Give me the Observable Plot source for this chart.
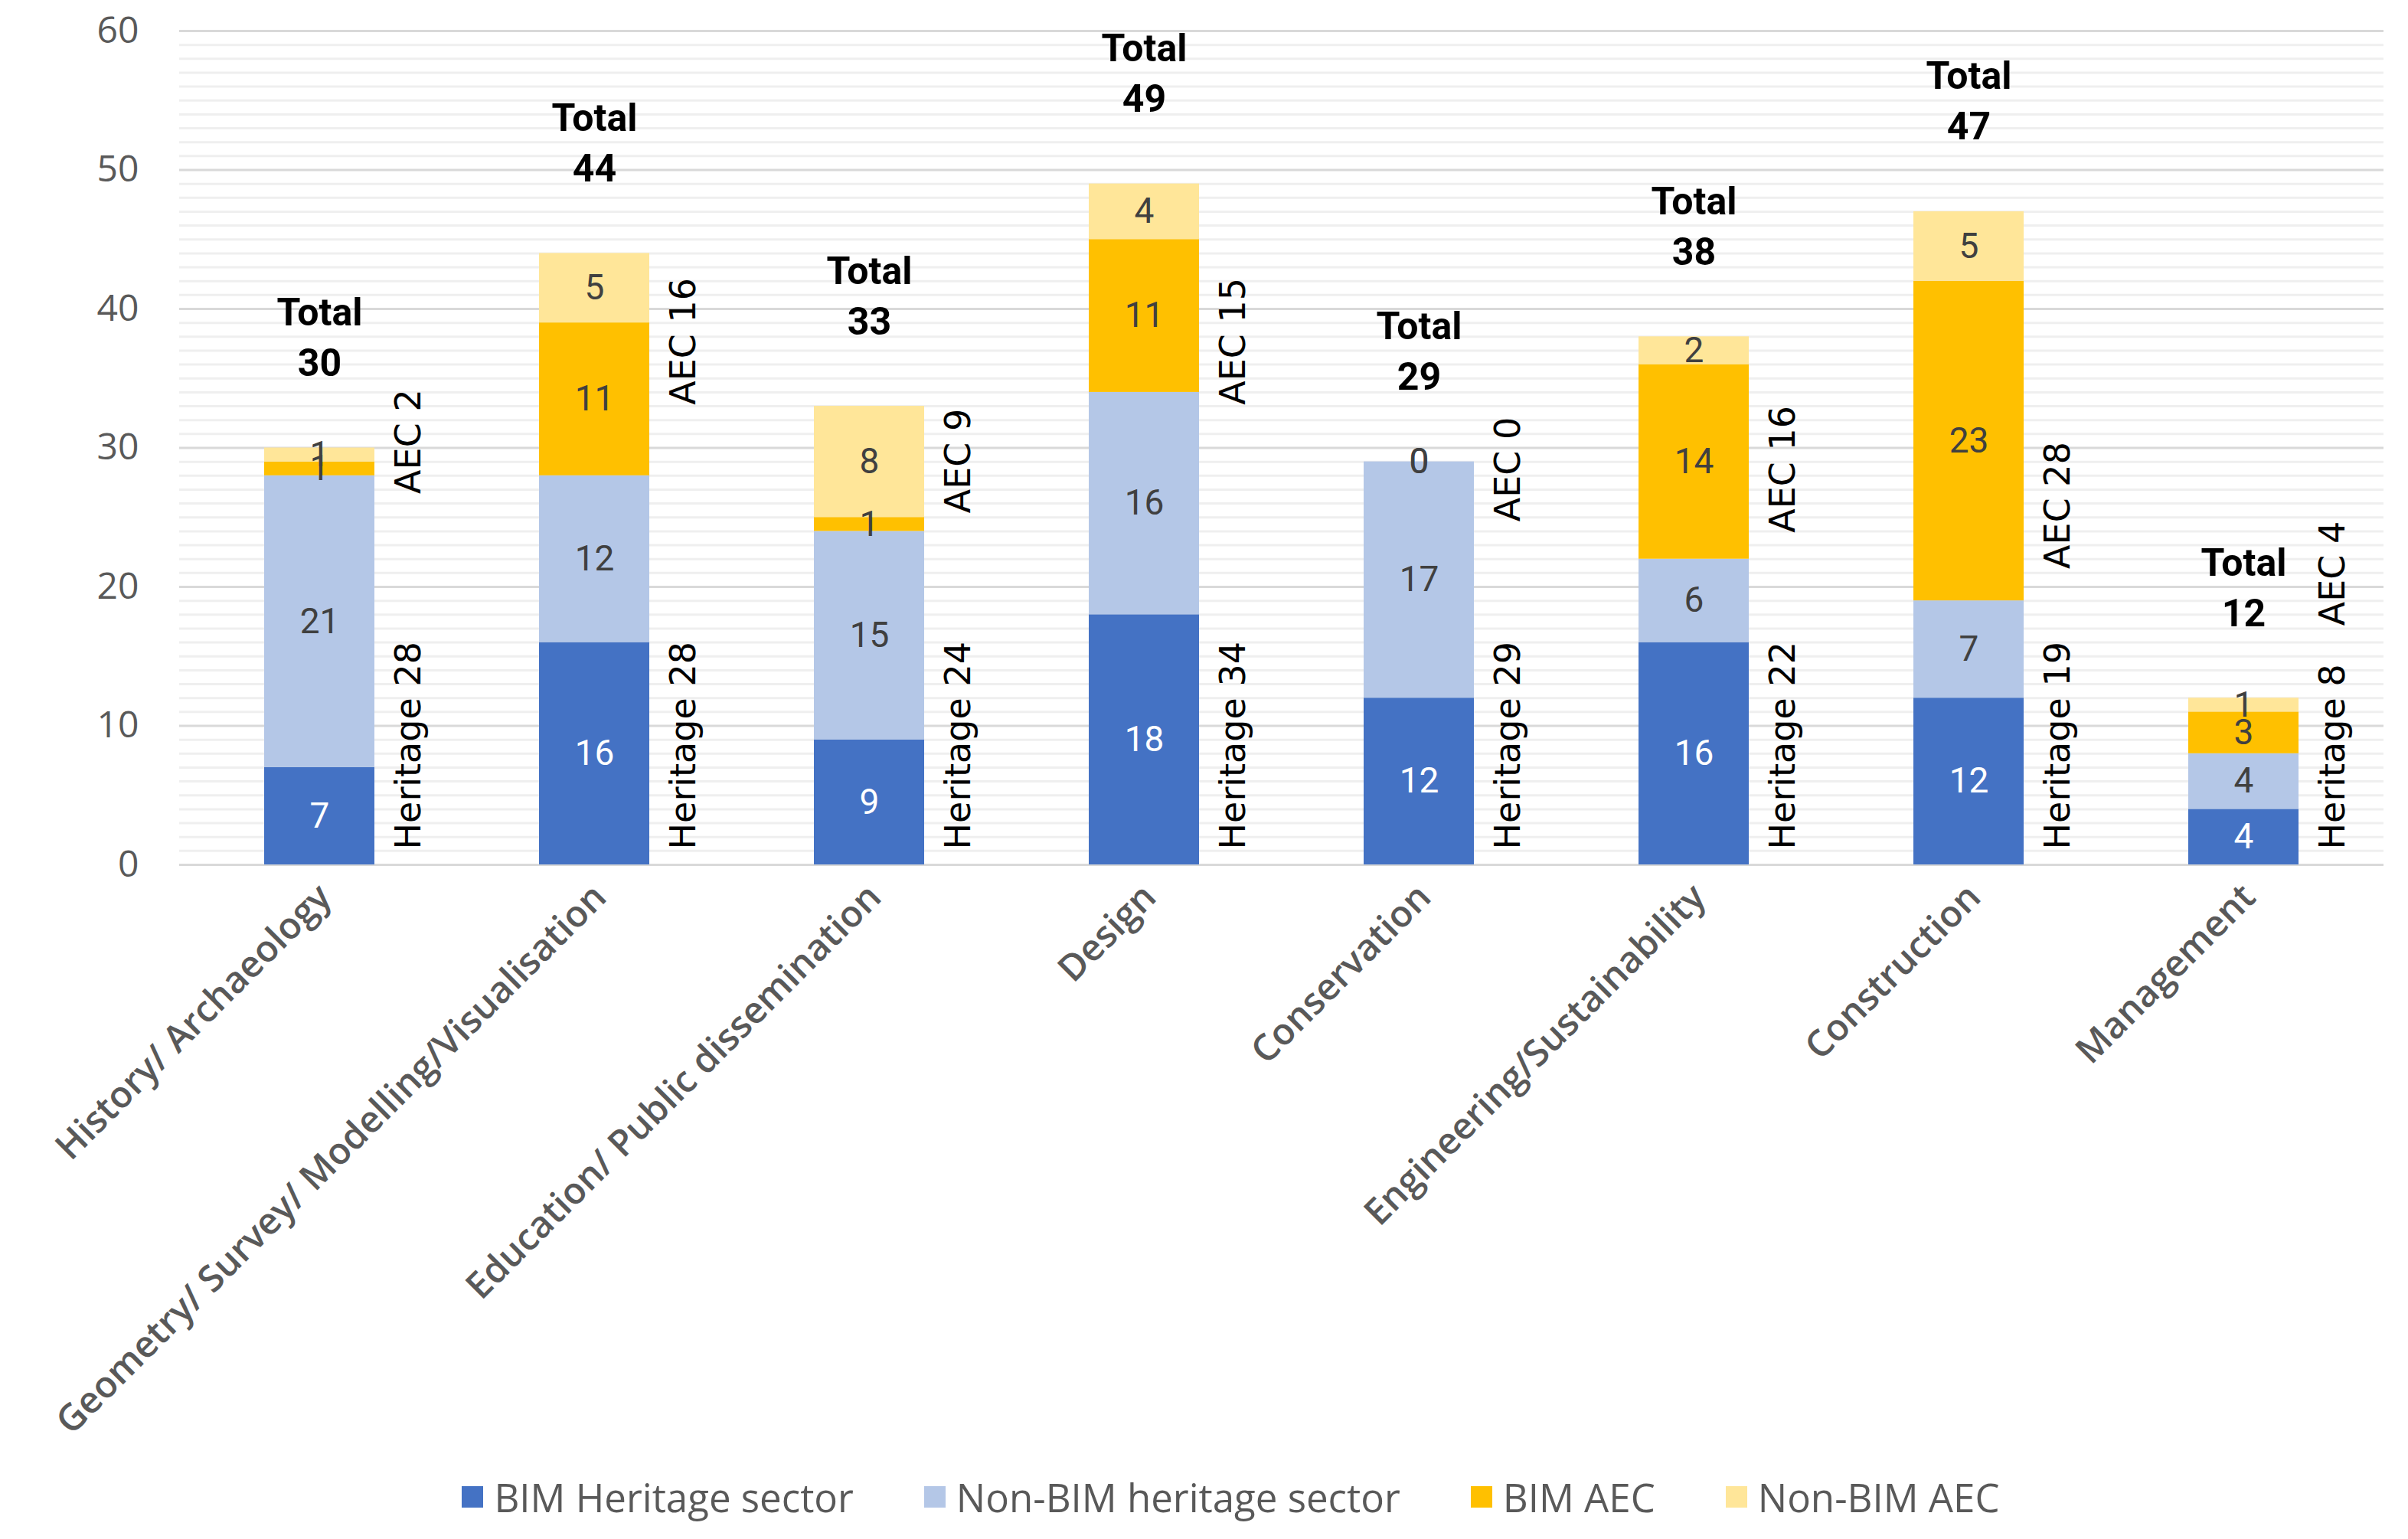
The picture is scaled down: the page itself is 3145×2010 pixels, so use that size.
<!DOCTYPE html>
<html><head><meta charset="utf-8">
<script src="https://cdn.jsdelivr.net/npm/d3@7"></script>
<script src="https://cdn.jsdelivr.net/npm/@observablehq/plot@0.6"></script>
<style>
body{margin:0;background:#fff;font-family:"Open Sans",sans-serif;}
#legend{display:flex;justify-content:center;align-items:center;gap:92px;height:110px;padding-left:70px;font-size:51px;color:#595959;box-sizing:border-box;}
.item{display:flex;align-items:center;gap:14px}
.sw{width:28px;height:28px}
</style></head><body><div id="chart"></div><div id="legend"></div>
<script>
const categories = ["History/ Archaeology","Geometry/ Survey/ Modelling/Visualisation","Education/ Public dissemination","Design","Conservation","Engineering/Sustainability","Construction","Management"];
const seriesNames = ["BIM Heritage sector","Non-BIM heritage sector","BIM AEC","Non-BIM AEC"];
const seriesColors = ["#4472C4","#B4C7E7","#FFC000","#FFE699"];
const bimHeritage = [7,16,9,18,12,16,12,4];
const nonBimHeritage = [21,12,15,16,17,6,7,4];
const bimAEC = [1,11,1,11,0,14,23,3];
const nonBimAEC = [1,5,8,4,0,2,5,1];
const totals = [30,44,33,49,29,38,47,12];
const heritageTotals = [28,28,24,34,29,22,19,8];
const aecTotals = [2,16,9,15,0,16,28,4];
const aecLabelBase = [26.7,33.1,25.3,33.1,24.7,23.9,21.3,17.2];
const yTicks = [0,10,20,30,40,50,60];
const minorTicks = d3.range(0,61,1);

const seriesValues = [bimHeritage, nonBimHeritage, bimAEC, nonBimAEC];
const rows = [];
categories.forEach((c,i)=>{
  let acc = 0;
  seriesValues.forEach((vals,s)=>{
    rows.push({cat:c, series:seriesNames[s], value:vals[i], y1:acc, y2:acc+vals[i]});
    acc += vals[i];
  });
});
const catRows = categories.map((c,i)=>({cat:c,total:totals[i],her:heritageTotals[i],aec:aecTotals[i],aecBase:aecLabelBase[i]}));

const W = 3145, H = 1900;
const plot = Plot.plot({
  width: W, height: H,
  marginTop: 40, marginBottom: H-1129, marginLeft: 234, marginRight: 32,
  style:{fontFamily:"Open Sans", background:"white"},
  x:{domain:categories, paddingInner:0.6, paddingOuter:0.3, axis:null},
  y:{domain:[0,60], axis:null},
  color:{domain:seriesNames, range:seriesColors},
  marks:[
    Plot.ruleY(minorTicks.filter(t=>t%10!==0), {stroke:"#efefef", strokeWidth:3}),
    Plot.ruleY(yTicks, {stroke:"#d9d9d9", strokeWidth:3}),
    Plot.axisY({ticks:yTicks, tickSize:0, tickPadding:53, fontSize:48, fill:"#595959", label:null}),
    Plot.barY(rows, {x:"cat", y1:"y1", y2:"y2", fill:"series"}),
    Plot.text(rows.filter(d=>d.series===seriesNames[0]), {x:"cat", y:d=>(d.y1+d.y2)/2, text:d=>String(d.value), fill:"white", fontSize:46, fontFamily:"Roboto"}),
    Plot.text(rows.filter(d=>d.series!==seriesNames[0]), {x:"cat", y:d=>(d.y1+d.y2)/2, text:d=>String(d.value), fill:"#404040", fontSize:46, fontFamily:"Roboto"}),
    Plot.text(catRows, {x:"cat", y:"total", text:d=>String(d.total), dy:-110, fontSize:50, fontWeight:"bold", fontFamily:"Roboto", fill:"black"}),
    Plot.text(catRows, {x:"cat", y:"total", text:()=>"Total", dy:-176, fontSize:50, fontWeight:"bold", fontFamily:"Roboto", fill:"black"}),
    Plot.text(catRows, {x:"cat", y:0, text:d=>"Heritage "+d.her, rotate:-90, textAnchor:"start", dx:117, dy:-20, fontSize:46, fontFamily:"DejaVu Sans", fill:"black"}),
    Plot.text(catRows, {x:"cat", y:"aecBase", text:d=>"AEC "+d.aec, rotate:-90, textAnchor:"start", dx:117, fontSize:46, fontFamily:"DejaVu Sans", fill:"black"}),
    Plot.text(categories, {x:d=>d, frameAnchor:"bottom", text:d=>d, rotate:-45, textAnchor:"end", dx:18, dy:45, fontSize:48, fontWeight:600, fill:"#595959", fontFamily:"Open Sans"})
  ]
});
document.getElementById("chart").appendChild(plot);
const lg = document.getElementById("legend");
seriesNames.forEach((n,i)=>{
  const it = document.createElement("div"); it.className="item";
  const sw = document.createElement("div"); sw.className="sw"; sw.style.background=seriesColors[i];
  const tx = document.createElement("span"); tx.textContent=n;
  it.appendChild(sw); it.appendChild(tx); lg.appendChild(it);
});
</script></body></html>
